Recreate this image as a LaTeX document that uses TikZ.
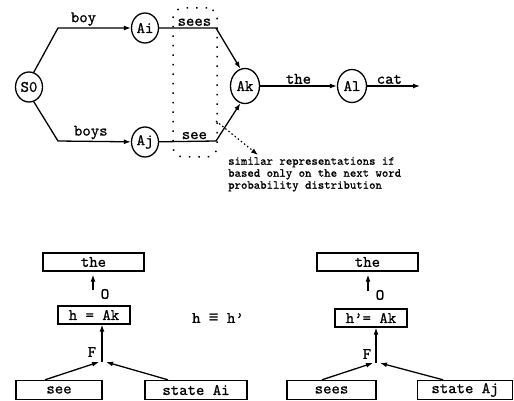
\documentclass[tikz,border=0pt]{standalone}
\usepackage{fontspec}
\setmainfont{lmmono10-regular.otf}[FakeBold=0.8]
\newfontfamily\symf{DejaVu Sans Mono}
\usetikzlibrary{arrows.meta,shapes.geometric,calc}
\newcommand\labf{\fontsize{16}{17}\selectfont}
\newcommand\notef{\fontsize{12.2}{12}\selectfont}
\begin{document}
\begin{tikzpicture}[x=1pt,y=-1pt,
 st/.style={draw, ellipse, line width=1.3pt, inner sep=0pt, minimum width=27pt, minimum height=30pt, font=\labf},
 bx/.style={draw, rectangle, line width=1.4pt, inner sep=0pt, minimum height=18pt, font=\labf},
 arr/.style={line width=1.3pt, -{Latex[length=7pt,width=5pt]}},
 dotarr/.style={line width=1.2pt, dash pattern=on 1.5pt off 2.5pt, -{Latex[length=7pt,width=5pt]}},
 grpbox/.style={draw, rectangle, rounded corners=10pt, line width=1.5pt, dash pattern=on 1.5pt off 8pt, minimum width=44pt, minimum height=149pt},
 lab/.style={font=\labf, inner sep=1.5pt},
 note/.style={font=\notef, align=left, inner sep=0pt, anchor=north west}]
\useasboundingbox (0,0) rectangle (514,401);
% top graph
\node[st] (S0) at (29,87) {S0};
\node[st] (Ai) at (145,28) {Ai};
\node[st] (Aj) at (145,142) {Aj};
\node[st, minimum width=29pt, minimum height=35pt] (Ak) at (245,86) {Ak};
\node[st, minimum width=29pt, minimum height=33pt] (Al) at (352,86) {Al};
\node[grpbox] (grp) at (195,82.5) {};
\coordinate (c1) at (58,28);
\coordinate (c2) at (58,141);
\coordinate (c3) at (216,28);
\coordinate (c4) at (216,141);
\coordinate (catEnd) at (420,86);
\draw[arr] (S0.72) -- (c1) -- node[lab, above, pos=0.35] (lboy) {boy} (Ai);
\draw[arr] (S0.-72) -- (c2) -- node[lab, above, pos=0.45] (lboys) {boys} (Aj);
\draw[arr] (Ai) -- node[lab, above, pos=0.62] (lsees) {sees} (c3) -- (Ak.105);
\draw[arr] (Aj) -- node[lab, above, pos=0.62] (lsee) {see} (c4) -- (Ak.255);
\draw[arr] (Ak) -- node[lab, above] (lthe) {the} (Al);
\draw[arr] (Al) -- node[lab, above, pos=0.42] (lcat) {cat} (catEnd);
\node[note] (nt) at (228,157) {similar representations if\\based only on the next word\\probability distribution};
\coordinate (ds) at (216,121);
\coordinate (de) at (258,155);
\draw[dotarr] (ds) -- (de);
% bottom left
\node[bx, minimum width=101pt] (the1) at (93.5,262) {the};
\node[bx, minimum width=72pt] (h1) at (94,315) {h = Ak};
\node[bx, minimum width=86pt, minimum height=19pt] (see1) at (59,390) {see};
\node[bx, minimum width=102pt, minimum height=19pt] (sa1) at (196,390) {state Ai};
\coordinate (j1) at (102,362);
\draw[arr] ([xshift=-14pt]see1.north) -- ([xshift=-3pt]j1);
\draw[arr] ([xshift=-28pt]sa1.north) -- ([xshift=4pt]j1);
\draw[arr] (j1) -- (j1 |- h1.south);
\node[lab] (F1) at (92,352) {F};
\draw[arr, shorten <=15pt, shorten >=3pt] ([xshift=-1pt]h1.north) -- ([xshift=-0.5pt]the1.south);
\node[lab] (O1) at (105,294) {O};
\node[lab] (eq) at (218,318) {h {\symf ≡} h'};
% bottom right
\node[bx, minimum width=101pt] (the2) at (367.5,262) {the};
\node[bx, minimum width=72pt] (h2) at (371,318) {h'= Ak};
\node[bx, minimum width=89pt, minimum height=19pt] (see2) at (331.5,390) {sees};
\node[bx, minimum width=95pt, minimum height=19pt] (sa2) at (465,390) {state Aj};
\coordinate (j2) at (376,363);
\draw[arr] ([xshift=-9.5pt]see2.north) -- ([xshift=-3pt]j2);
\draw[arr] ([xshift=-22pt]sa2.north) -- ([xshift=4pt]j2);
\draw[arr] (j2) -- (j2 |- h2.south);
\node[lab] (F2) at (367,354) {F};
\draw[arr, shorten <=17pt, shorten >=3pt] ([xshift=-3pt]h2.north) -- ([xshift=0.5pt]the2.south);
\node[lab] (O2) at (380,295) {O};
\end{tikzpicture}
\end{document}
